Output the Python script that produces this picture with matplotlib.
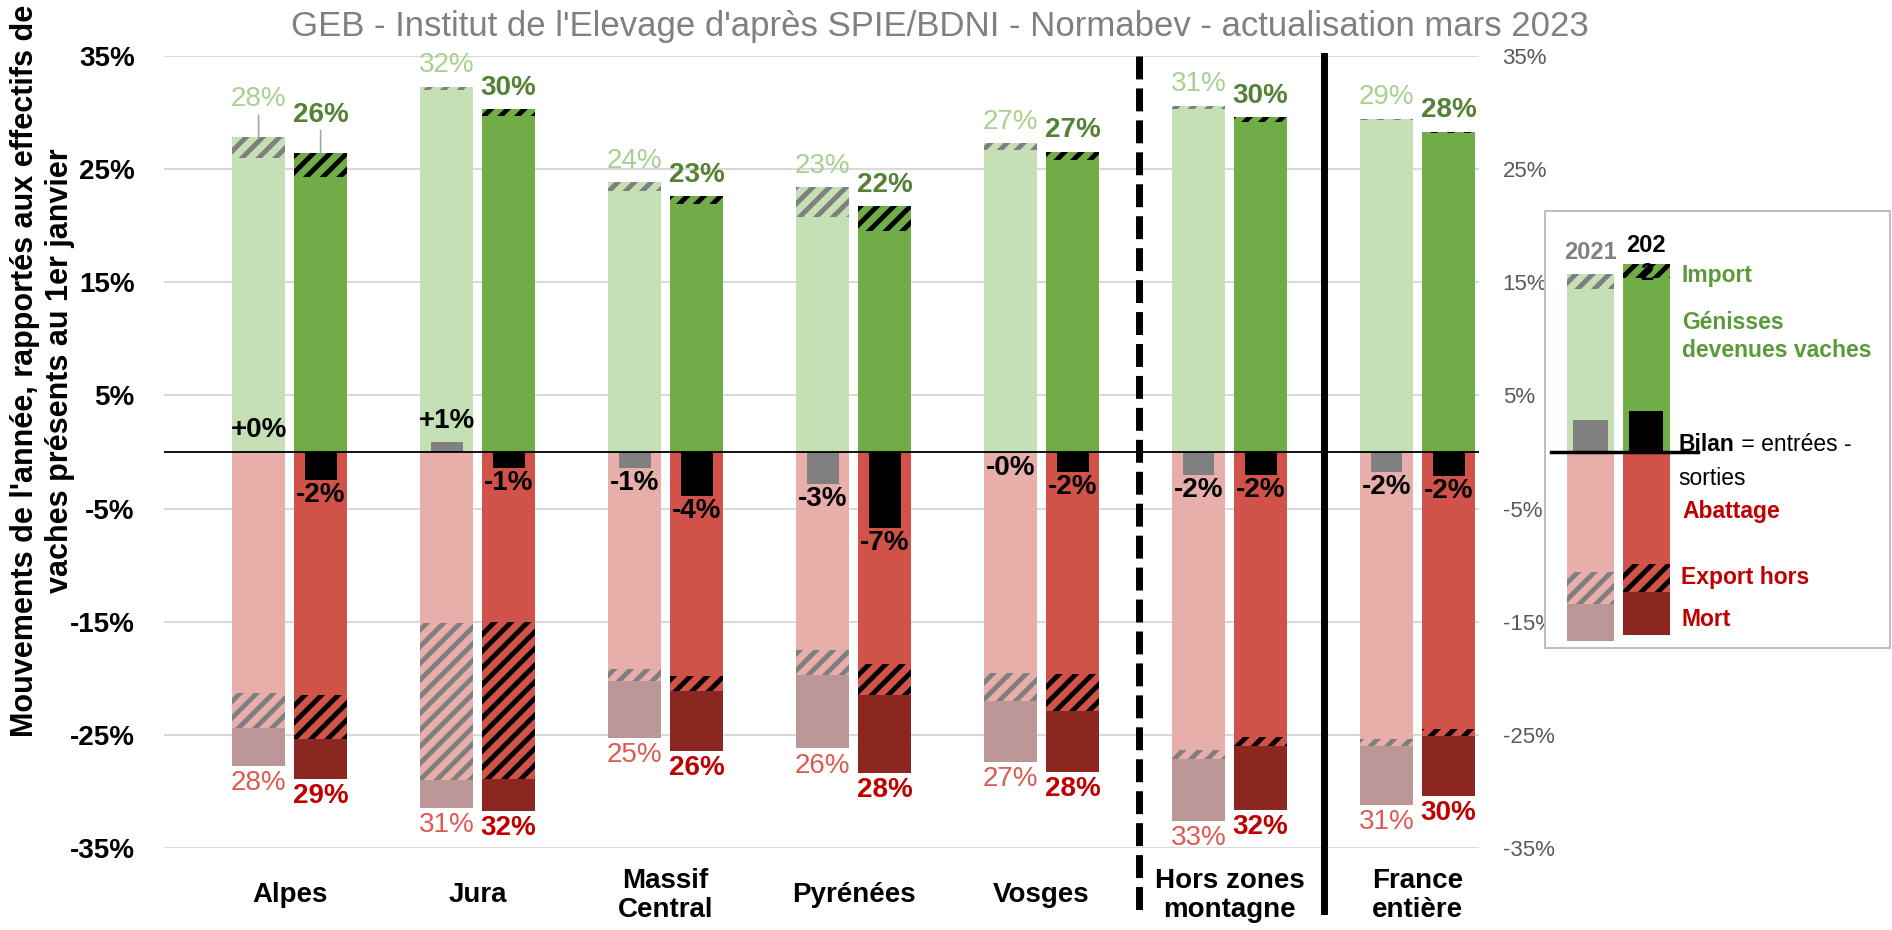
import matplotlib
matplotlib.use("Agg")
import matplotlib.pyplot as plt
import numpy as np

plt.rcParams["font.family"] = ["Liberation Sans", "DejaVu Sans"]
plt.rcParams["hatch.linewidth"] = 3.5

categories = ["Alpes", "Jura", "Massif\nCentral", "Pyrénées", "Vosges",
              "Hors zones\nmontagne", "France\nentière"]

# entrées, en % des vaches présentes au 1er janvier
genisses_2021 = [26.0, 32.0, 23.1, 20.8, 26.65, 30.3, 29.35]
import_2021 = [1.8, 0.3, 0.75, 2.6, 0.65, 0.3, 0.1]
genisses_2022 = [24.3, 29.7, 21.9, 19.5, 25.8, 29.2, 28.15]
import_2022 = [2.15, 0.6, 0.7, 2.2, 0.75, 0.4, 0.15]

# sorties
abattage_2021 = [21.3, 15.15, 19.15, 17.5, 19.5, 26.3, 25.35]
export_2021 = [3.1, 13.85, 1.05, 2.25, 2.5, 0.8, 0.6]
mort_2021 = [3.35, 2.45, 5.05, 6.45, 5.4, 5.5, 5.25]
abattage_2022 = [21.45, 15.05, 19.8, 18.7, 19.6, 25.2, 24.5]
export_2022 = [3.95, 13.85, 1.35, 2.75, 3.25, 0.8, 0.6]
mort_2022 = [3.5, 2.8, 5.3, 6.95, 5.45, 5.6, 5.3]

# barres de la légende (2021, 2022)
leg_genisses = [14.4, 15.4]
leg_import = [1.3, 1.2]
leg_abattage = [10.6, 9.9]
leg_export = [2.8, 2.5]
leg_mort = [3.3, 3.8]
leg_bilan = [2.8, 3.6]

yticks = [35, 25, 15, 5, -5, -15, -25, -35]

styles = {
    2021: dict(gen="#C5E0B4", aba="#E8AEAA", mort="#BD9797", hatch="#7F7F7F",
               bilan="#808080", top_lbl="#A9D18E", bot_lbl="#DC5A50", weight="normal"),
    2022: dict(gen="#70AD47", aba="#D05249", mort="#8B2621", hatch="black",
               bilan="black", top_lbl="#538135", bot_lbl="#C00000", weight="bold"),
}


def stack(axis, x, w, bw, gen, imp, aba, exp, mor, st, bilan=None):
    gen, imp, aba, exp, mor = map(np.asarray, (gen, imp, aba, exp, mor))
    axis.bar(x, gen, w, color=st["gen"], lw=0)
    axis.bar(x, imp, w, bottom=gen, color=st["gen"], edgecolor=st["hatch"], hatch="//", lw=0)
    axis.bar(x, -aba, w, color=st["aba"], lw=0)
    axis.bar(x, -exp, w, bottom=-aba, color=st["aba"], edgecolor=st["hatch"], hatch="//", lw=0)
    axis.bar(x, -mor, w, bottom=-(aba + exp), color=st["mort"], lw=0)
    if bilan is None:
        bilan = gen + imp - (aba + exp + mor)   # bilan = entrées - sorties
    axis.bar(x, bilan, bw, color=st["bilan"], lw=0, zorder=3)
    return gen + imp, aba + exp + mor, np.asarray(bilan)


fig = plt.figure(figsize=(18.92, 9.30), dpi=100)
ax = fig.add_axes([0.0867, 0.0882, 0.6950, 0.8516])

x = np.arange(len(categories))
w, bw, off = 0.282, 0.17, 0.165
data = {
    2021: (genisses_2021, import_2021, abattage_2021, export_2021, mort_2021),
    2022: (genisses_2022, import_2022, abattage_2022, export_2022, mort_2022),
}

for year, sign in [(2021, -1), (2022, 1)]:
    st = styles[year]
    xs = x + sign * off
    tops, bots, bilans = stack(ax, xs, w, bw, *data[year], st)
    for i in range(len(categories)):
        lift = 18 if i == 0 else 6
        ax.annotate(f"{tops[i]:.0f}%", (xs[i], tops[i]), xytext=(0, lift),
                    textcoords="offset points", ha="center", va="bottom",
                    fontsize=20, color=st["top_lbl"], fontweight=st["weight"],
                    arrowprops=dict(arrowstyle="-", color="#A6A6A6", lw=1.2,
                                    shrinkA=0, shrinkB=0) if i == 0 else None)
        ax.annotate(f"{bots[i]:.0f}%", (xs[i], -bots[i]), xytext=(0, -3),
                    textcoords="offset points", ha="center", va="top",
                    fontsize=20, color=st["bot_lbl"], fontweight=st["weight"])
        b = bilans[i]
        if b >= 0:
            ax.annotate(f"+{abs(b):.0f}%", (xs[i], b), xytext=(0, 6),
                        textcoords="offset points", ha="center", va="bottom",
                        fontsize=20, fontweight="bold", color="black", zorder=5)
        else:
            ax.annotate(f"-{abs(b):.0f}%", (xs[i], b), xytext=(0, -1.5),
                        textcoords="offset points", ha="center", va="top",
                        fontsize=20, fontweight="bold", color="black", zorder=5)

ax.axhline(0, color="black", lw=1.3, zorder=4)
ax.set_xlim(-0.668, 6.327)
ax.set_ylim(-35, 35)
ax.set_yticks(yticks)
ax.set_yticklabels([f"{v}%" for v in yticks], fontsize=20, fontweight="bold")
ax.grid(axis="y", color="#D9D9D9", lw=1.5)
ax.set_axisbelow(True)
ax.set_xticks(x)
ax.set_xticklabels(categories, fontsize=20, fontweight="bold", linespacing=1.15)
for lbl in ax.get_xticklabels():
    lbl.set_va("center")
ax.tick_params(axis="x", length=0, pad=34)
ax.tick_params(axis="y", length=0, pad=21)
for s in ax.spines.values():
    s.set_visible(False)

# séparateurs
ax.plot([4.52, 4.52], [35, -40.6], color="black", lw=5, ls=(0, (3.3, 1.3)),
        clip_on=False, zorder=6)
ax.plot([5.5, 5.5], [35, -40.6], color="black", lw=5, clip_on=False, zorder=6)

# axe de droite
ax2 = ax.twinx()
ax2.set_ylim(ax.get_ylim())
ax2.set_yticks(yticks)
ax2.set_yticklabels([f"{v}%" for v in yticks], fontsize=16, color="#595959")
ax2.tick_params(axis="y", length=0, pad=17)
for s in ax2.spines.values():
    s.set_visible(False)

fig.text(0.497, 0.972,
         "GEB - Institut de l'Elevage d'après SPIE/BDNI - Normabev - actualisation mars 2023",
         ha="center", va="center", fontsize=25, color="#808080")
fig.text(0.0225, 0.601,
         "Mouvements de l'année, rapportés aux effectifs de\nvaches présents au 1er janvier",
         rotation=90, ha="center", va="center", multialignment="center",
         fontsize=22, fontweight="bold", linespacing=1.2)

# légende dessinée comme un petit graphique
pos = ax.get_position()
lb, lh = 0.3032, 0.4699
lax = fig.add_axes([0.8166, lb, 0.1823, lh], zorder=10)
lo = -35 + (lb - pos.y0) / pos.height * 70
hi = -35 + (lb + lh - pos.y0) / pos.height * 70
lax.set_xlim(0, 1)
lax.set_ylim(lo, hi)
lax.set_xticks([])
lax.set_yticks([])
for s in lax.spines.values():
    s.set_color("#BFBFBF")
    s.set_linewidth(1.5)

for k, (year, lx) in enumerate([(2021, 0.132), (2022, 0.294)]):
    stack(lax, [lx], 0.136, 0.099, [leg_genisses[k]], [leg_import[k]],
          [leg_abattage[k]], [leg_export[k]], [leg_mort[k]], styles[year],
          bilan=[leg_bilan[k]])
lax.plot([0.017, 0.443], [0, 0], color="black", lw=2.5, zorder=4)

lax.text(0.132, 17.6, "2021", ha="center", va="center", fontsize=17,
         fontweight="bold", color="#808080")
lax.text(0.294, 17.0, "202\n2", ha="center", va="center", fontsize=17,
         fontweight="bold", color="black", linespacing=1.25, zorder=6)
green, red = "#5A9A3A", "#C00000"
lsz = 16.5
lax.text(0.397, 15.6, "Import", va="center", fontsize=lsz, fontweight="bold", color=green)
lax.text(0.397, 10.2, "Génisses\ndevenues vaches", va="center", fontsize=lsz,
         fontweight="bold", color=green, linespacing=1.3)
bil = lax.text(0.388, 0.7, "Bilan", va="center", fontsize=lsz, fontweight="bold",
               color="black", zorder=6)
lax.annotate(" = entrées -", xy=(1, 0.5), xycoords=bil, va="center", fontsize=lsz,
             color="black")
lax.text(0.388, -2.3, "sorties", va="center", fontsize=lsz, color="black")
lax.text(0.397, -5.3, "Abattage", va="center", fontsize=lsz, fontweight="bold", color=red)
lax.text(0.394, -11.05, "Export hors", va="center", fontsize=lsz, fontweight="bold", color=red)
lax.text(0.397, -14.85, "Mort", va="center", fontsize=lsz, fontweight="bold", color=red)

fig.savefig("out.png", dpi=100)
plt.close(fig)
